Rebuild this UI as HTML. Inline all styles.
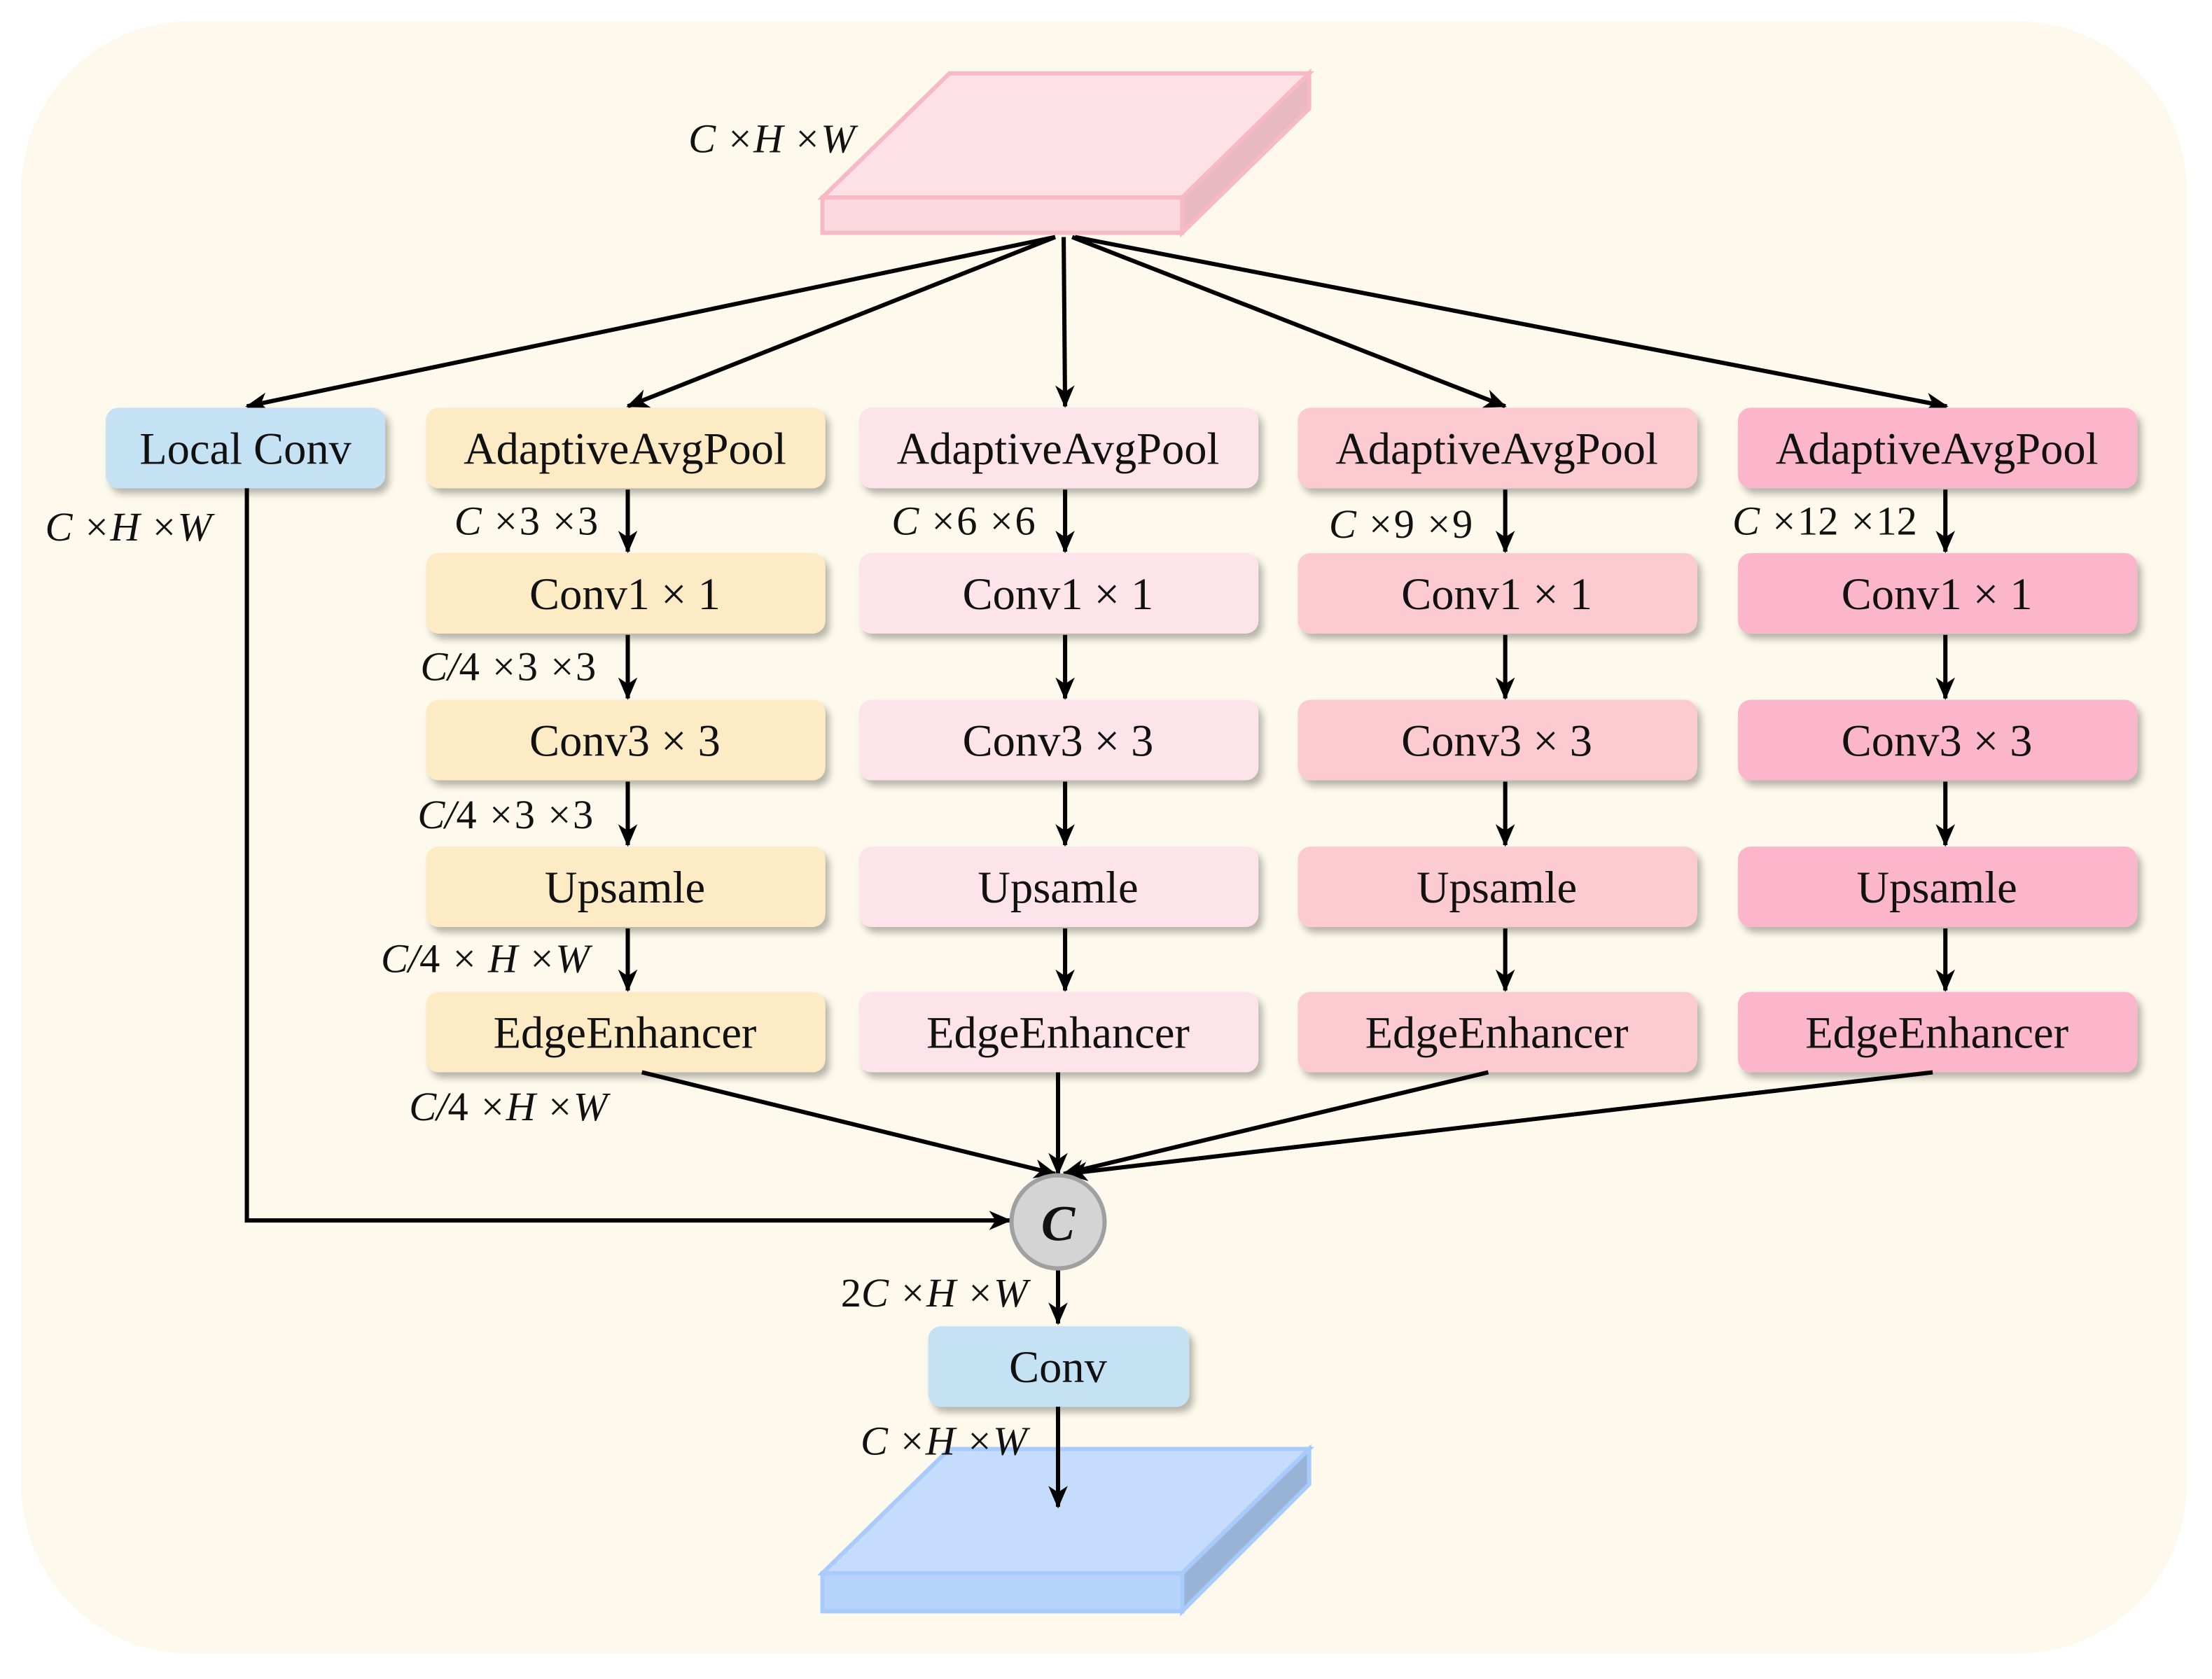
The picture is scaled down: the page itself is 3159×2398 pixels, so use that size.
<!DOCTYPE html>
<html><head><meta charset="utf-8"><style>
html,body{margin:0;padding:0;background:#fff;}
svg{display:block;}
text{font-family:"Liberation Serif",serif;fill:#111;}
.b{font-size:32px;text-anchor:middle;dominant-baseline:central;}
.l{font-size:29px;font-style:italic;}
.n{font-style:normal;}
</style></head><body>
<svg width="3159" height="2398" viewBox="0 0 1568 1190" preserveAspectRatio="none" xmlns="http://www.w3.org/2000/svg">
<defs>
<marker id="ah" viewBox="0 0 14 12" refX="13" refY="6" markerWidth="16" markerHeight="14" orient="auto" markerUnits="userSpaceOnUse">
<path d="M0,0 L14,6 L0,12 L4,6 Z" fill="#000"/>
</marker>
<filter id="sh" x="-10%" y="-20%" width="130%" height="160%">
<feDropShadow dx="3" dy="4" stdDeviation="2.5" flood-color="#000" flood-opacity="0.28"/>
</filter>
</defs>
<rect x="15" y="15" width="1535" height="1157" rx="120" fill="#fdf9ec"/>

<polygon points="583,140 673,52 928,52 838,140" fill="#fde1e7" stroke="#f7b9c5" stroke-width="3"/>
<polygon points="838,140 928,52 928,77 838,165" fill="#e9b9c2" stroke="#f7b9c5" stroke-width="3"/>
<rect x="583" y="140" width="255" height="25" fill="#fcd9e0" stroke="#f7b9c5" stroke-width="3"/>
<text class="l" x="488" y="108">C ×H ×W</text>

<g stroke="#000" stroke-width="3" fill="none" marker-end="url(#ah)">
<line x1="748" y1="168" x2="175" y2="288"/>
<line x1="748" y1="168" x2="445" y2="288"/>
<line x1="754" y1="168" x2="755" y2="288"/>
<line x1="760" y1="168" x2="1067" y2="288"/>
<line x1="762" y1="168" x2="1380" y2="288"/>
</g>

<g filter="url(#sh)">
<rect x="75" y="289" width="198" height="57" rx="9" fill="#c5e1f4"/>
<g fill="#fdebc6">
<rect x="302" y="289" width="283" height="57" rx="9"/><rect x="302" y="392" width="283" height="57" rx="9"/><rect x="302" y="496" width="283" height="57" rx="9"/><rect x="302" y="600" width="283" height="57" rx="9"/><rect x="302" y="703" width="283" height="57" rx="9"/>
</g>
<g fill="#fde3ea">
<rect x="609" y="289" width="283" height="57" rx="9"/><rect x="609" y="392" width="283" height="57" rx="9"/><rect x="609" y="496" width="283" height="57" rx="9"/><rect x="609" y="600" width="283" height="57" rx="9"/><rect x="609" y="703" width="283" height="57" rx="9"/>
</g>
<g fill="#fccbd1">
<rect x="920" y="289" width="283" height="57" rx="9"/><rect x="920" y="392" width="283" height="57" rx="9"/><rect x="920" y="496" width="283" height="57" rx="9"/><rect x="920" y="600" width="283" height="57" rx="9"/><rect x="920" y="703" width="283" height="57" rx="9"/>
</g>
<g fill="#fbb6cc">
<rect x="1232" y="289" width="283" height="57" rx="9"/><rect x="1232" y="392" width="283" height="57" rx="9"/><rect x="1232" y="496" width="283" height="57" rx="9"/><rect x="1232" y="600" width="283" height="57" rx="9"/><rect x="1232" y="703" width="283" height="57" rx="9"/>
</g>
<rect x="658" y="940" width="185" height="57" rx="9" fill="#c5e1f4"/>
</g>

<text class="b" x="174" y="318">Local Conv</text>
<g>
<text class="b" x="443" y="318">AdaptiveAvgPool</text><text class="b" x="443" y="421">Conv1 × 1</text><text class="b" x="443" y="525">Conv3 × 3</text><text class="b" x="443" y="629">Upsamle</text><text class="b" x="443" y="732">EdgeEnhancer</text>
<text class="b" x="750" y="318">AdaptiveAvgPool</text><text class="b" x="750" y="421">Conv1 × 1</text><text class="b" x="750" y="525">Conv3 × 3</text><text class="b" x="750" y="629">Upsamle</text><text class="b" x="750" y="732">EdgeEnhancer</text>
<text class="b" x="1061" y="318">AdaptiveAvgPool</text><text class="b" x="1061" y="421">Conv1 × 1</text><text class="b" x="1061" y="525">Conv3 × 3</text><text class="b" x="1061" y="629">Upsamle</text><text class="b" x="1061" y="732">EdgeEnhancer</text>
<text class="b" x="1373" y="318">AdaptiveAvgPool</text><text class="b" x="1373" y="421">Conv1 × 1</text><text class="b" x="1373" y="525">Conv3 × 3</text><text class="b" x="1373" y="629">Upsamle</text><text class="b" x="1373" y="732">EdgeEnhancer</text>
<text class="b" x="750" y="969">Conv</text>
</g>

<g stroke="#000" stroke-width="3" fill="none" marker-end="url(#ah)">
<line x1="445" y1="347" x2="445" y2="391"/><line x1="445" y1="450" x2="445" y2="495"/><line x1="445" y1="554" x2="445" y2="599"/><line x1="445" y1="658" x2="445" y2="702"/>
<line x1="755" y1="347" x2="755" y2="391"/><line x1="755" y1="450" x2="755" y2="495"/><line x1="755" y1="554" x2="755" y2="599"/><line x1="755" y1="658" x2="755" y2="702"/>
<line x1="1067" y1="347" x2="1067" y2="391"/><line x1="1067" y1="450" x2="1067" y2="495"/><line x1="1067" y1="554" x2="1067" y2="599"/><line x1="1067" y1="658" x2="1067" y2="702"/>
<line x1="1379" y1="347" x2="1379" y2="391"/><line x1="1379" y1="450" x2="1379" y2="495"/><line x1="1379" y1="554" x2="1379" y2="599"/><line x1="1379" y1="658" x2="1379" y2="702"/>
<line x1="455" y1="760" x2="748" y2="832"/>
<line x1="750" y1="760" x2="750" y2="832"/>
<line x1="1055" y1="760" x2="754" y2="832"/>
<line x1="1370" y1="760" x2="756" y2="832"/>
<polyline points="175,346 175,865 716,865"/>
<line x1="750" y1="900" x2="750" y2="938"/>
</g>

<circle cx="750" cy="866" r="33" fill="#d4d4d4" stroke="#a0a0a0" stroke-width="3"/>
<text x="750" y="867" style="font-size:36px;font-weight:bold;font-style:italic;text-anchor:middle;dominant-baseline:central;">C</text>

<text class="l" x="32" y="383">C ×H ×W</text>
<text class="l" x="322" y="379">C ×<tspan class="n">3</tspan> ×<tspan class="n">3</tspan></text>
<text class="l" x="298" y="482">C/<tspan class="n">4</tspan> ×<tspan class="n">3</tspan> ×<tspan class="n">3</tspan></text>
<text class="l" x="296" y="587">C/<tspan class="n">4</tspan> ×<tspan class="n">3</tspan> ×<tspan class="n">3</tspan></text>
<text class="l" x="270" y="689">C/<tspan class="n">4</tspan> × H ×W</text>
<text class="l" x="290" y="794">C/<tspan class="n">4</tspan>  ×H ×W</text>
<text class="l" x="632" y="379">C ×<tspan class="n">6</tspan> ×<tspan class="n">6</tspan></text>
<text class="l" x="942" y="381">C ×<tspan class="n">9</tspan> ×<tspan class="n">9</tspan></text>
<text class="l" x="1228" y="379">C ×<tspan class="n">12</tspan> ×<tspan class="n">12</tspan></text>
<text class="l" x="596" y="926"><tspan class="n">2</tspan>C ×H ×W</text>

<polygon points="583,1115 673,1027 928,1027 838,1115" fill="#c6dcfc" stroke="#a9cbfb" stroke-width="3"/>
<polygon points="838,1115 928,1027 928,1052 838,1142" fill="#99b3d7" stroke="#a9cbfb" stroke-width="3"/>
<rect x="583" y="1115" width="255" height="27" fill="#b6d4fb" stroke="#a9cbfb" stroke-width="3"/>
<text class="l" x="610" y="1031">C ×H ×W</text>
<line x1="750" y1="997" x2="750" y2="1068" stroke="#000" stroke-width="3" marker-end="url(#ah)"/>
</svg>
</body></html>
